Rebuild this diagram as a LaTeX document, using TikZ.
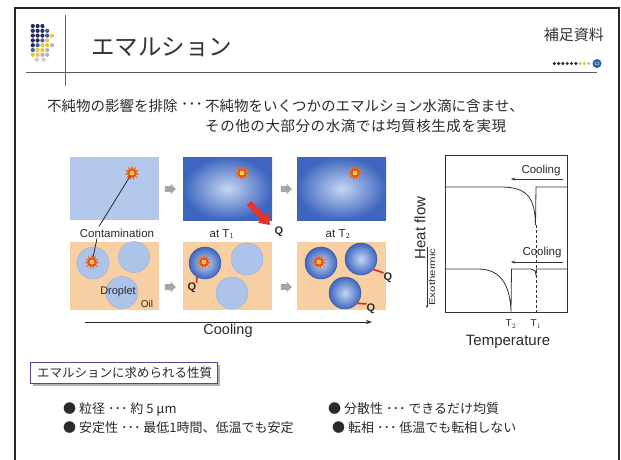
\documentclass[tikz,border=0pt]{standalone}
\usepackage{fontspec}
\setmainfont{Liberation Sans}
\newfontfamily\jp{Noto Sans CJK JP}
\usetikzlibrary{shapes.geometric,shapes.arrows,arrows.meta,calc}

\definecolor{navy}{HTML}{232A5C}
\definecolor{midblue}{HTML}{3F5E9C}
\definecolor{gold}{HTML}{E6C633}
\definecolor{lgray}{HTML}{B4B4B8}
\definecolor{panellight}{HTML}{B4C8EC}
\definecolor{paneldark}{HTML}{3E66C0}
\definecolor{panelglow}{HTML}{C4D6F2}
\definecolor{peach}{HTML}{F7CFA2}
\definecolor{droplight}{HTML}{ADC4EA}
\definecolor{dropedge}{HTML}{97B0DE}
\definecolor{burstred}{HTML}{E8402A}
\definecolor{burstyellow}{HTML}{F7D23A}
\definecolor{qred}{HTML}{D92A2A}
\definecolor{arrowred}{HTML}{E8322A}
\definecolor{ink}{HTML}{2A2A2A}
\definecolor{pagecircle}{HTML}{2E62AE}

\newcommand{\fsz}[1]{\fontsize{#1}{#1}\selectfont}

\begin{document}
\begin{tikzpicture}[x=1pt,y=-1pt,
  panel/.style={rectangle, minimum width=89, minimum height=63, inner sep=0, draw=none},
  lightpanel/.style={panel, fill=panellight},
  darkpanel/.style={panel, inner color=panelglow, outer color=paneldark},
  oilpanel/.style={rectangle, minimum width=89, minimum height=68, inner sep=0, fill=peach},
  drop/.style={circle, minimum size=32, inner sep=0, fill=droplight, draw=dropedge, line width=0.4},
  darkdrop/.style={circle, minimum size=32, inner sep=0, inner color=panelglow, outer color=paneldark, draw=paneldark!80!black, line width=0.4},
  burst/.style={star, star points=11, star point ratio=1.9, minimum size=14, inner sep=0, fill=burstred, draw=orange, line width=0.3},
  burstcore/.style={circle, minimum size=5, inner sep=0, fill=burstyellow},
  garrow/.style={single arrow, fill=black!35, draw=none, inner sep=2.6, minimum height=11, single arrow head extend=2.4},
  qline/.style={draw=qred, line width=1.7},
  qlabel/.style={font=\bfseries\fsz{11}, text=ink, inner sep=0},
  label/.style={font=\fsz{11.5}, text=ink, inner sep=0},
  chart/.style={draw=black!80, line width=0.8},
  dot/.style={circle, inner sep=0, minimum size=4.2},
  jptext/.style={font=\jp\fsz{14.5}, text=ink, inner sep=0, anchor=west},
  bullet/.style={font=\jp\fsz{13}, text=ink, inner sep=0, anchor=west},
]
\useasboundingbox (0,0) rectangle (621,459);
\fill[white] (0,0) rectangle (621,459);

% ---------- page frame and header ----------
\draw[line width=1.8, black!85] (15,460) -- (15,8) -- (619,8) -- (619,460);
\draw[line width=1, black!65] (26,72) -- (597,72);
\draw[line width=0.8, black!60] (65,15) -- (65,86);

% logo dot grid
\foreach \c [count=\i] in {navy,navy,navy}              {\node[dot, fill=\c] at ({28+4.8*\i},26) {};}
\foreach \c [count=\i] in {navy,navy,navy,midblue}      {\node[dot, fill=\c] at ({28+4.8*\i},30.8) {};}
\foreach \c [count=\i] in {navy,navy,navy,midblue,gold} {\node[dot, fill=\c] at ({28+4.8*\i},35.6) {};}
\foreach \c [count=\i] in {navy,navy,midblue,gold}      {\node[dot, fill=\c] at ({28+4.8*\i},40.4) {};}
\foreach \c [count=\i] in {navy,midblue,gold,gold,lgray} {\node[dot, fill=\c] at ({28+4.8*\i},45.2) {};}
\foreach \c [count=\i] in {midblue,gold,gold,lgray}     {\node[dot, fill=\c] at ({28+4.8*\i},50) {};}
\foreach \c [count=\i] in {gold,gold,lgray,lgray}       {\node[dot, fill=\c] at ({28+4.8*\i},54.8) {};}
\foreach \c [count=\i] in {lgray!70,lgray!70}           {\node[dot, fill=\c] at ({30+6.8*\i},59.6) {};}

\node[font=\jp\fsz{23.5}, text=black!80, anchor=west, inner sep=0] (title) at (91,47) {エマルション};
\node[font=\jp\fsz{15}, text=black!80, anchor=east, inner sep=0] (supp) at (604,35) {補足資料};

% page marker
\foreach \c [count=\i] in {navy,navy,navy,navy,navy,navy,gold,gold,lgray}
  {\node[dot, minimum size=3.4, fill=\c] at ({550+4.3*\i},63.5) {};}
\node[circle, fill=pagecircle, minimum size=9, inner sep=0, font=\fsz{4.5}, text=white] (pg) at (597,63.5) {12};

% ---------- statement ----------
\node[jptext] (lead) at (47,106) {不純物の影響を排除};
\node[jptext] (leaddots) at (181,106) {･･･};
\node[jptext] (line1) at (205,106) {不純物をいくつかのエマルション水滴に含ませ、};
\node[jptext] (line2) at (205,126) {\addfontfeature{LetterSpace=4}その他の大部分の水滴では均質核生成を実現};

% ---------- bulk water panels ----------
\node[lightpanel] (p1) at (114.5,188.5) {};
\node[darkpanel]  (p2) at (227.5,188.5) {};
\node[darkpanel]  (p3) at (341.5,188.5) {};

\node[garrow] (ga1) at (169,189) {};
\node[garrow] (ga2) at (285,189) {};

\node[burst] (s1) at (132,173) {}; \node[burstcore] at (s1) {};
\node[burst] (s2) at (242,173) {}; \node[burstcore] at (s2) {};
\node[burst] (s3) at (355,173) {}; \node[burstcore] at (s3) {};

% heat released from the bulk at T1
\coordinate (ra1) at (249,203);
\coordinate (ra2) at (270,225);
\draw[line width=6, arrowred, -{Triangle[width=14,length=10]}] (ra1) -- (ra2);
\node[qlabel] (q1) at (279,232) {Q};

% panel captions
\node[label] (cont) at (117,233) {Contamination};
\node[label] (t1) at (222,234) {at T$_1$};
\node[label] (t2) at (338,234) {at T$_2$};

% ---------- emulsion panels ----------
\node[oilpanel] (o1) at (114.5,276) {};
\node[oilpanel] (o2) at (227.5,276) {};
\node[oilpanel] (o3) at (341.5,276) {};

\node[garrow] (ga3) at (169,287) {};
\node[garrow] (ga4) at (285,287) {};

% oil phase before cooling
\node[drop] (d1) at (93,263) {};
\node[drop, minimum size=31] (d2) at (134,257) {};
\node[drop] (d3) at (122,292.5) {};
\node[burst] (s4) at (92,262) {}; \node[burstcore] at (s4) {};
\node[font=\fsz{11}, text=ink, inner sep=0] (droplet) at (118,292) {Droplet};
\node[font=\fsz{10}, text=ink, inner sep=0] (oil) at (147,304) {Oil};

% contamination pointers
\coordinate (ct1) at (99,226.5);
\coordinate (ct2) at (97,238.5);
\draw[line width=0.8, black!85] (s1) -- (ct1);
\draw[line width=0.8, black!85] (ct2) -- (s4);

% at T1: only the contaminated droplet freezes
\node[darkdrop] (d4) at (205,263) {};
\node[drop] (d5) at (247,259) {};
\node[drop] (d6) at (232,293) {};
\node[burst] (s5) at (204,262) {}; \node[burstcore] at (s5) {};
\node[qlabel] (q2) at (192,288) {Q};
\draw[qline] (d4.240) -- (q2.north east);

% at T2: the remaining droplets freeze
\node[darkdrop] (d7) at (321,263) {};
\node[darkdrop] (d8) at (361,259) {};
\node[darkdrop] (d9) at (345,293) {};
\node[burst] (s6) at (319,262) {}; \node[burstcore] at (s6) {};
\node[qlabel] (q3) at (388,278) {Q};
\node[qlabel] (q4) at (371,309) {Q};
\draw[qline] (d8.-40) -- (q3.north west);
\draw[qline] (d9.-40) -- (q4.north west);

% cooling direction
\coordinate (cs) at (85,322);
\coordinate (ce) at (372,322);
\draw[line width=0.9, black!85, -{Stealth[length=6,width=4]}] (cs) -- (ce);
\node[font=\fsz{14.5}, text=ink, inner sep=0] (cool) at (228,331) {Cooling};

% ---------- DSC curves ----------
\node[rectangle, draw=black!80, line width=0.8, minimum width=122, minimum height=157, inner sep=0] (box) at (506,233.5) {};

\draw[chart] (box.west |- 0,187) -- (500,187)
  .. controls (526,187) and (535,196) .. (535.5,225)
  -- (536,187) -- (box.east |- 0,187);
\draw[chart] (box.west |- 0,269) -- (478,269)
  .. controls (500,269) and (510,284) .. (511,311.5)
  -- (511.5,269) -- (531,269)
  .. controls (534,269) and (535.5,271) .. (536,275)
  -- (536.3,269) -- (box.east |- 0,269);
\draw[chart, dashed, dash pattern=on 3pt off 2pt] (536,225) -- (536,312);

\node[font=\fsz{11.5}, text=ink, inner sep=0] (cool1) at (541,171) {Cooling};
\coordinate (ca1) at (563,179);
\coordinate (ca2) at (511,179);
\draw[line width=0.6, black!80, -{Stealth[length=4,width=3]}] (ca1) -- (ca2);
\node[font=\fsz{11.5}, text=ink, inner sep=0] (cool2) at (542,253) {Cooling};
\coordinate (cb1) at (563,262);
\coordinate (cb2) at (511,262);
\draw[line width=0.6, black!80, -{Stealth[length=4,width=3]}] (cb1) -- (cb2);

\node[font=\fsz{15}, text=ink, inner sep=0, rotate=90] (hf) at (420,228) {Heat flow};
\node[font=\fsz{8.5}, text=ink, inner sep=0, rotate=90] (exo) at (432,277) {\scalebox{1.35}[1]{Exothermic}};
\coordinate (ex1) at (427,247);
\coordinate (ex2) at (427,308);
\draw[line width=0.5, black!80, -{Stealth[length=3,width=2.5]}] (ex1) -- (ex2);

\node[font=\fsz{10}, text=ink, inner sep=0] (T2) at (511,324) {T$_2$};
\node[font=\fsz{10}, text=ink, inner sep=0] (T1) at (536,324) {T$_1$};
\node[font=\fsz{15}, text=ink, inner sep=0] (temp) at (508,342) {Temperature};

% ---------- required properties ----------
\fill[black!30] (33,365) rectangle (220,386);
\node[rectangle, draw=black!60!blue!70, fill=white, line width=0.8, anchor=north west, minimum width=187, minimum height=21, inner sep=0] (propbox) at (30,362) {};
\node[font=\jp\fsz{12.5}, text=ink, anchor=west, inner sep=0] (proptitle) at (37,372.5) {エマルションに求められる性質};

\node[bullet] (b1) at (63,409) {● 粒径 ･･･ 約 5 µm};
\node[bullet] (b2) at (63,428) {● 安定性 ･･･ 最低1時間、低温でも安定};
\node[bullet] (b3) at (328,409) {● 分散性 ･･･ できるだけ均質};
\node[bullet] (b4) at (332,428) {● 転相 ･･･ 低温でも転相しない};
\end{tikzpicture}
\end{document}
